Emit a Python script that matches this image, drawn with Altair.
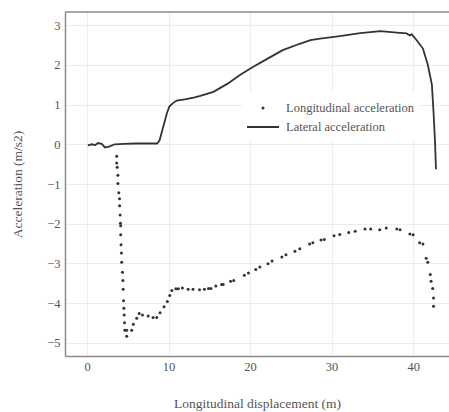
import altair as alt
import pandas as pd

# Lateral acceleration trace (m/s2) against longitudinal displacement (m)
lat_x = [0.1, 0.6, 1.0, 1.35, 1.8, 2.2, 2.7, 3.4, 4.5, 6.0, 7.5, 8.6, 8.9, 9.2, 9.8,
         10.1, 10.5, 11.0, 12.0, 13.2, 13.9, 15.5, 17.2, 18.8, 20.4, 22.1, 24.0, 26.1,
         27.4, 28.6, 31.0, 33.5, 36.0, 38.0, 39.2, 39.6, 39.8, 40.2, 41.2, 41.8, 42.3,
         42.5, 42.7, 42.8]
lat_y = [-0.03, 0.0, -0.02, 0.03, 0.01, -0.08, -0.06, 0.0, 0.01, 0.02, 0.02, 0.02, 0.1,
         0.33, 0.78, 0.95, 1.03, 1.1, 1.13, 1.18, 1.22, 1.32, 1.52, 1.75, 1.95, 2.15,
         2.37, 2.53, 2.62, 2.66, 2.72, 2.8, 2.85, 2.81, 2.79, 2.74, 2.77, 2.68, 2.41, 2.0,
         1.5, 0.82, 0.0, -0.63]

# Longitudinal acceleration samples
lon_x = [3.64, 3.64, 3.7, 3.79, 3.79, 3.9, 3.99, 4.0, 4.06, 4.1, 4.13, 4.13, 4.17, 4.22,
         4.25, 4.35, 4.4, 4.43, 4.48, 4.52, 4.56, 4.6, 4.64, 4.87, 4.87, 5.48, 5.68, 6.1,
         6.4, 6.8, 7.5, 8.1, 8.55, 8.96, 9.45, 9.85, 10.15, 10.4, 10.9, 11.2, 11.7, 12.4,
         13.0, 13.8, 14.4, 14.9, 15.2, 15.8, 16.5, 16.7, 17.6, 18.0, 19.3, 19.8, 20.7,
         21.2, 22.2, 22.7, 23.9, 24.4, 25.5, 26.1, 27.3, 27.7, 28.7, 29.1, 30.3, 31.0,
         32.1, 32.9, 34.1, 34.8, 35.9, 36.7, 38.0, 38.4, 39.6, 40.0, 40.8, 41.2, 41.6,
         41.8, 42.1, 42.2, 42.4, 42.5, 42.5]
lon_y = [-0.3, -0.47, -0.58, -0.78, -0.99, -1.22, -1.37, -1.55, -1.78, -1.99, -2.05,
         -2.28, -2.53, -2.74, -2.97, -3.22, -3.43, -3.65, -3.94, -4.13, -4.3, -4.49, -4.68,
         -4.68, -4.83, -4.68, -4.53, -4.38, -4.26, -4.3, -4.32, -4.36, -4.36, -4.24, -4.09,
         -3.96, -3.81, -3.68, -3.64, -3.64, -3.62, -3.65, -3.65, -3.66, -3.65, -3.63,
         -3.63, -3.57, -3.53, -3.53, -3.45, -3.43, -3.3, -3.24, -3.15, -3.09, -3.01,
         -2.94, -2.84, -2.78, -2.69, -2.63, -2.51, -2.48, -2.41, -2.4, -2.3, -2.27, -2.22,
         -2.19, -2.13, -2.13, -2.15, -2.11, -2.13, -2.15, -2.26, -2.28, -2.48, -2.51,
         -2.87, -2.97, -3.28, -3.45, -3.63, -3.87, -4.08]

x_ticks = [0, 10, 20, 30, 40]
y_ticks = [-5, -4, -3, -2, -1, 0, 1, 2, 3]
legend_labels = ["Longitudinal acceleration", "Lateral acceleration"]

FONT = "Liberation Serif"
INK = "#333333"
TXT = "#555555"
W, H = 384, 344

lat = pd.DataFrame({"d": lat_x, "a": lat_y})
lon = pd.DataFrame({"d": lon_x, "a": lon_y})

xs = alt.Scale(domain=[-2.7, 44.4], nice=False, zero=False)
ys = alt.Scale(domain=[-5.33, 3.33], nice=False, zero=False)

x_enc = alt.X("d:Q", scale=xs, title="Longitudinal displacement (m)",
              axis=alt.Axis(values=x_ticks, titlePadding=24, labelPadding=4,
                            labelFont=FONT, titleFont=FONT))
y_enc = alt.Y("a:Q", scale=ys, title="Acceleration (m/s2)",
              axis=alt.Axis(values=y_ticks, titlePadding=22, labelPadding=5,
                            labelFont=FONT, titleFont=FONT))

line = alt.Chart(lat).mark_line(color=INK, strokeWidth=1.8).encode(
    x=x_enc, y=y_enc, order="d:Q")
dots = alt.Chart(lon).mark_circle(color=INK, size=9, opacity=1).encode(
    x=x_enc, y=y_enc)

# top border of the frame
top = alt.Chart(pd.DataFrame({"k": [0]})).mark_rule(color="#8a8a8a", strokeWidth=1.5).encode(
    x=alt.value(0), x2=alt.value(W), y=alt.value(0))

# legend box with its two entries
one = pd.DataFrame({"k": [0]})
box = alt.Chart(one).mark_rect(color="white").encode(
    x=alt.value(177), x2=alt.value(355), y=alt.value(80), y2=alt.value(129))
leg_dot = alt.Chart(one).mark_circle(color=INK, size=9, opacity=1).encode(
    x=alt.value(198), y=alt.value(96))
leg_line = alt.Chart(one).mark_rule(color=INK, strokeWidth=2).encode(
    x=alt.value(182), x2=alt.value(214), y=alt.value(115))
leg_text = alt.Chart(pd.DataFrame({"t": legend_labels, "yy": [96, 115]})).mark_text(
    font=FONT, fontSize=12.5, color=TXT, align="left", baseline="middle").encode(
    x=alt.value(221), y=alt.Y("yy:Q", scale=None), text="t:N")

chart = alt.layer(box, dots, line, top, leg_dot, leg_line, leg_text).properties(
    width=W, height=H,
    padding={"left": 65, "top": 12, "right": 0, "bottom": 56},
    autosize=alt.AutoSizeParams(type="none"),
    background="white",
).configure_view(stroke=None).configure_axis(
    grid=True, gridColor="#ececec", gridWidth=1,
    domainColor="#8a8a8a", domainWidth=1.5,
    ticks=False, labelFont=FONT, labelFontSize=12.5, labelColor=TXT,
    titleFont=FONT, titleFontSize=13.5, titleColor=TXT, titleFontWeight="normal",
)

chart.save("out.html", embed_options={"renderer": "svg", "actions": False})
